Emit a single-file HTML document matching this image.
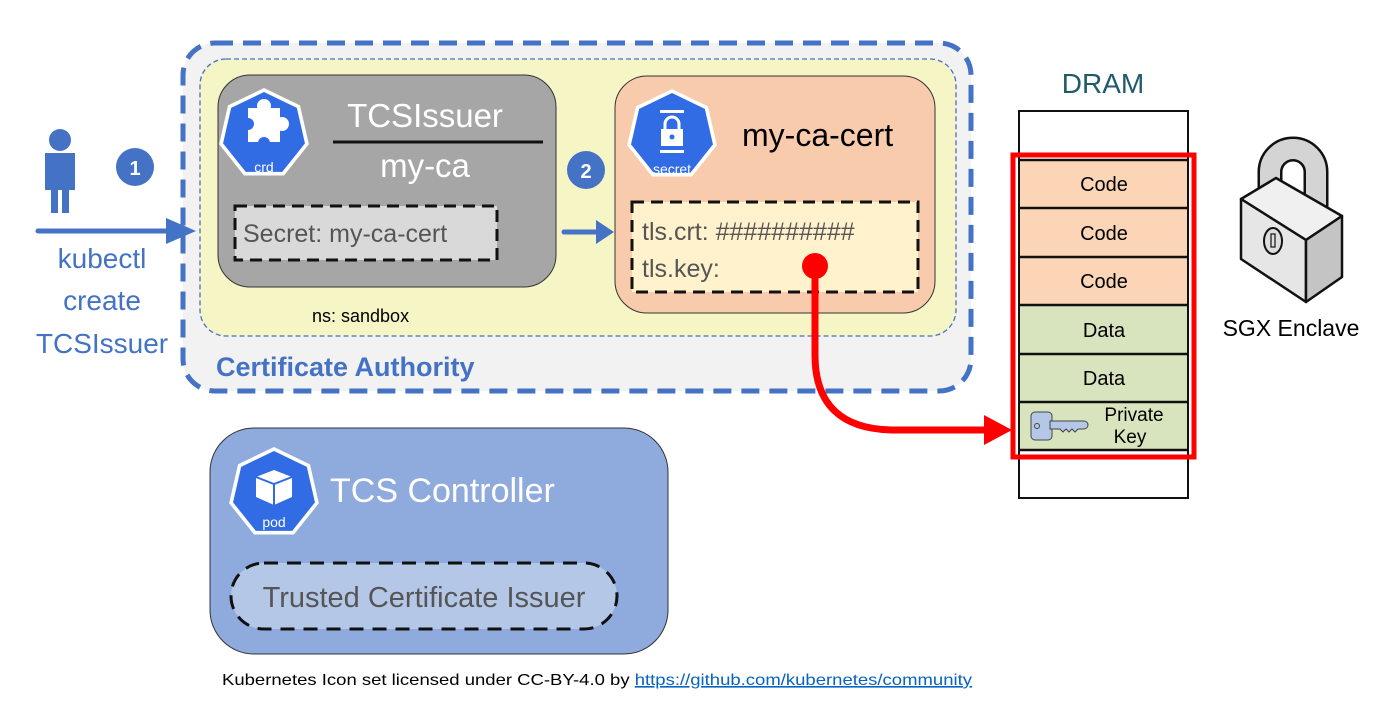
<!DOCTYPE html>
<html><head><meta charset="utf-8"><style>
body{margin:0;background:#fff}
svg text{font-family:"Liberation Sans",sans-serif}
</style></head><body>
<svg width="1389" height="710" viewBox="0 0 1389 710" xmlns="http://www.w3.org/2000/svg">
<defs>
<polygon id="hep" points="0,-1 0.782,-0.623 0.975,0.223 0.434,0.901 -0.434,0.901 -0.975,0.223 -0.782,-0.623" stroke-linejoin="round"/>
</defs>
<!-- CA box -->
<rect x="183" y="43" width="788" height="348" rx="32" fill="#f2f2f2" stroke="#4472c4" stroke-width="5" stroke-dasharray="18,10"/>
<rect x="200" y="59" width="756" height="277" rx="26" fill="#f5f5c6" stroke="#4472c4" stroke-width="1.3" stroke-dasharray="5,3"/>
<text x="216" y="376" font-size="27" font-weight="bold" fill="#4472c4">Certificate Authority</text>
<text x="312" y="322" font-size="18" fill="#000">ns: sandbox</text>
<!-- gray box -->
<rect x="218" y="75" width="338" height="212" rx="32" fill="#a6a6a6" stroke="#333" stroke-width="1"/>
<g transform="translate(264,134) scale(46)"><use href="#hep" fill="#fff"/></g>
<g transform="translate(264,134) scale(42)"><use href="#hep" fill="#326ce5"/></g>
<rect x="248" y="108" width="32" height="34" fill="#fff"/>
<circle cx="264" cy="106" r="7" fill="#fff"/>
<circle cx="282" cy="124" r="7" fill="#fff"/>
<circle cx="248" cy="124" r="6" fill="#326ce5"/>
<circle cx="264" cy="143" r="6" fill="#326ce5"/>
<text x="264" y="172" font-size="14" fill="#fff" text-anchor="middle">crd</text>
<text x="425" y="127" font-size="33" fill="#fff" text-anchor="middle">TCSIssuer</text>
<line x1="333" y1="142" x2="543" y2="142" stroke="#111" stroke-width="3"/>
<text x="425" y="177" font-size="33" fill="#fff" text-anchor="middle">my-ca</text>
<rect x="235" y="206" width="262" height="54" fill="#d9d9d9" stroke="#111" stroke-width="3" stroke-dasharray="12,7"/>
<text x="243" y="242" font-size="25" fill="#555">Secret: my-ca-cert</text>
<!-- step 2 -->
<circle cx="586" cy="170" r="19" fill="#4472c4"/>
<text x="586" y="178" font-size="20" font-weight="bold" fill="#fff" text-anchor="middle">2</text>
<line x1="564" y1="232" x2="598" y2="232" stroke="#4472c4" stroke-width="5" stroke-linecap="round"/>
<polygon points="596,220 614,232 596,244" fill="#4472c4"/>
<!-- pink box -->
<rect x="615" y="76" width="320" height="237" rx="32" fill="#f8cbad" stroke="#333" stroke-width="1"/>
<g transform="translate(672,135) scale(46)"><use href="#hep" fill="#fff"/></g>
<g transform="translate(672,135) scale(42)"><use href="#hep" fill="#326ce5"/></g>
<rect x="660" y="110" width="24" height="3" fill="#fff"/>
<rect x="660" y="150" width="24" height="3" fill="#fff"/>
<path d="M665 130v-6a7 7 0 0 1 14 0v6" fill="none" stroke="#fff" stroke-width="3"/>
<rect x="661" y="129" width="22" height="17" fill="#fff"/>
<circle cx="672" cy="137" r="2.5" fill="#326ce5"/>
<text x="672" y="174" font-size="14" fill="#fff" text-anchor="middle">secret</text>
<text x="742" y="146" font-size="32" fill="#000">my-ca-cert</text>
<rect x="632" y="202" width="286" height="90" fill="#fff2cc" stroke="#111" stroke-width="3" stroke-dasharray="12,7"/>
<text x="642" y="240" font-size="25" fill="#555">tls.crt: ##########</text>
<text x="642" y="277" font-size="25" fill="#555">tls.key:</text>
<!-- step 1 / person -->
<circle cx="60" cy="140" r="11" fill="#4472c4"/>
<path d="M45 153h30v37h-6v23h-7v-23h-4v23h-7v-23h-6z" fill="#4472c4"/>
<circle cx="135" cy="167" r="19" fill="#4472c4"/>
<text x="135" y="175" font-size="20" font-weight="bold" fill="#fff" text-anchor="middle">1</text>
<line x1="38" y1="231" x2="180" y2="231" stroke="#4472c4" stroke-width="5" stroke-linecap="round"/>
<polygon points="166,218 196,231 166,244" fill="#4472c4"/>
<text x="102" y="268" font-size="28" fill="#4472c4" text-anchor="middle">kubectl</text>
<text x="102" y="310" font-size="28" fill="#4472c4" text-anchor="middle">create</text>
<text x="102" y="353" font-size="28" fill="#4472c4" text-anchor="middle">TCSIssuer</text>
<!-- TCS controller -->
<rect x="210" y="428" width="458" height="226" rx="44" fill="#8faadc" stroke="#333" stroke-width="1"/>
<g transform="translate(274,493) scale(46)"><use href="#hep" fill="#fff"/></g>
<g transform="translate(274,493) scale(42)"><use href="#hep" fill="#326ce5"/></g>
<polygon points="274,470 292,477 292,497 274,505 256,497 256,477" fill="#fff"/>
<path d="M256 477l18 7 18-7M274 484v21" stroke="#326ce5" stroke-width="2" fill="none"/>
<text x="274" y="527" font-size="14" fill="#fff" text-anchor="middle">pod</text>
<text x="330" y="502" font-size="34" fill="#fff">TCS Controller</text>
<rect x="231" y="563" width="386" height="66" rx="33" fill="#b4c7e7" stroke="#111" stroke-width="3" stroke-dasharray="14,9"/>
<text x="424" y="607" font-size="29" fill="#555" text-anchor="middle">Trusted Certificate Issuer</text>
<!-- DRAM -->
<text x="1103" y="93" font-size="28" fill="#215a6a" text-anchor="middle">DRAM</text>
<rect x="1019" y="111" width="169" height="387" fill="#fff" stroke="#111" stroke-width="2"/>
<rect x="1020" y="160" width="167" height="145" fill="#fbd5b5"/>
<rect x="1020" y="305" width="167" height="145" fill="#d7e4bd"/>
<g stroke="#111" stroke-width="2.5">
<line x1="1019" y1="160" x2="1188" y2="160"/><line x1="1019" y1="208" x2="1188" y2="208"/>
<line x1="1019" y1="257" x2="1188" y2="257"/><line x1="1019" y1="305" x2="1188" y2="305"/>
<line x1="1019" y1="354" x2="1188" y2="354"/><line x1="1019" y1="402" x2="1188" y2="402"/>
<line x1="1019" y1="450" x2="1188" y2="450"/>
</g>
<g font-size="20" fill="#000" text-anchor="middle">
<text x="1104" y="191">Code</text><text x="1104" y="240">Code</text><text x="1104" y="288">Code</text>
<text x="1104" y="337">Data</text><text x="1104" y="385">Data</text>
<text x="1134" y="421" font-size="19">Private</text><text x="1130" y="443" font-size="19">Key</text>
</g>
<rect x="1031" y="412" width="21" height="28" rx="4" fill="#b4c7e7" stroke="#444" stroke-width="1"/>
<path d="M1050 421h34a4 4 0 0 1 0 8h-6l-3 3-3-3-3 3-3-3-3 3-3-3h-10z" fill="#b4c7e7" stroke="#444" stroke-width="1"/>
<circle cx="1037" cy="426" r="2.5" fill="none" stroke="#444"/>
<rect x="1013" y="155" width="181" height="302" fill="none" stroke="#ff0000" stroke-width="5"/>
<!-- red connector -->
<circle cx="815" cy="266" r="13" fill="#ff0000"/>
<path d="M815 266V355Q815 430 895 430H988" fill="none" stroke="#ff0000" stroke-width="7"/>
<polygon points="984,415 1012,430 984,445" fill="#ff0000"/>
<!-- lock -->
<path d="M1270 215V172a23 23 0 0 1 46 0V225" fill="none" stroke="#111" stroke-width="25"/>
<path d="M1270 215V172a23 23 0 0 1 46 0V225" fill="none" stroke="#d4d4d4" stroke-width="20"/>
<polygon points="1241,199 1276,178 1342,216 1306,240" fill="#f0f0f0" stroke="#111" stroke-width="2.5" stroke-linejoin="round"/>
<polygon points="1241,199 1306,240 1306,302 1241,259" fill="#e6e6e6" stroke="#111" stroke-width="2.5" stroke-linejoin="round"/>
<polygon points="1306,240 1342,216 1342,277 1306,302" fill="#c4c4c4" stroke="#111" stroke-width="2.5" stroke-linejoin="round"/>
<ellipse cx="1273" cy="241" rx="9" ry="13" fill="#ddd" stroke="#111" stroke-width="2"/>
<rect x="1271" y="234" width="4" height="13" fill="none" stroke="#111" stroke-width="1.2"/>
<text x="1291" y="336" font-size="23" fill="#000" text-anchor="middle">SGX Enclave</text>
<!-- footer -->
<text x="222" y="685" font-size="16" fill="#000" textLength="750" lengthAdjust="spacingAndGlyphs">Kubernetes Icon set licensed under CC-BY-4.0 by <tspan fill="#0563c1" text-decoration="underline">https://github.com/kubernetes/community</tspan></text>
</svg>
</body></html>
